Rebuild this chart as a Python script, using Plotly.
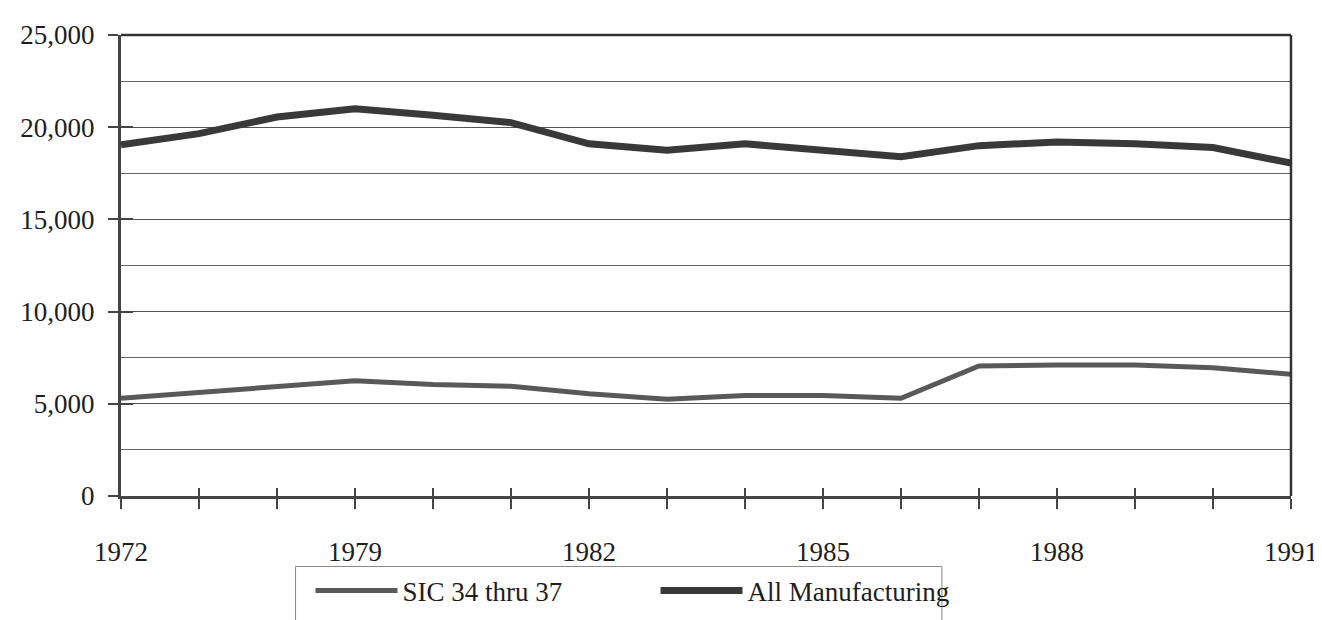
import plotly.graph_objects as go

years = ["1972", "1977", "1978", "1979", "1980", "1981", "1982", "1983",
         "1984", "1985", "1986", "1987", "1988", "1989", "1990", "1991"]
label_years = ["1972", "1979", "1982", "1985", "1988", "1991"]
sic_34_37 = [5300, 5600, 5950, 6250, 6050, 5950, 5550, 5250,
             5450, 5450, 5300, 7050, 7100, 7100, 6950, 6600]
all_mfg = [19050, 19650, 20550, 21000, 20650, 20250, 19100, 18750,
           19100, 18750, 18400, 19000, 19200, 19100, 18900, 18050]
y_ticks = [0, 5000, 10000, 15000, 20000, 25000]

FONT = "Liberation Serif"
FS = 27

# plot-area pixel geometry (for positioning legend/box in paper coords)
L, R, T, B, W, H = 110, 39, 21, 115, 1322, 620
PW, PH = W - L - R, H - T - B
def px(x):
    return (x - L) / PW
def py(y):
    return (H - B - y) / PH

fig = go.Figure()
fig.add_trace(go.Scatter(x=years, y=sic_34_37, mode="lines", name="SIC 34 thru 37",
                         line=dict(color="#595959", width=5)))
fig.add_trace(go.Scatter(x=years, y=all_mfg, mode="lines", name="All Manufacturing",
                         line=dict(color="#393939", width=7)))

ticktext = [y if y in label_years else "" for y in years]

fig.update_layout(
    width=W, height=H,
    margin=dict(l=L, r=R, t=T, b=B),
    paper_bgcolor="white", plot_bgcolor="white",
    font=dict(family=FONT, size=FS, color="#1e1e1e"),
    showlegend=True,
    legend=dict(orientation="h", x=px(300), xanchor="left", y=py(579), yanchor="top",
                borderwidth=0, font=dict(size=FS, family=FONT),
                itemwidth=82, entrywidth=248, bgcolor="rgba(0,0,0,0)"),
    xaxis=dict(type="category", range=[0, 15], tickmode="array", tickvals=years,
               ticktext=ticktext, ticks="outside", ticklen=10, tickwidth=2,
               tickcolor="#444", showline=True, linecolor="#444", linewidth=3,
               showgrid=False, zeroline=False, tickfont=dict(size=FS, family=FONT),
               ticklabelstandoff=20),
    xaxis2=dict(overlaying="x", anchor="y", side="bottom", range=[0, 15],
                tickmode="linear", tick0=0, dtick=1, ticks="inside", ticklen=8,
                tickwidth=2, tickcolor="#444", showticklabels=False,
                showgrid=False, zeroline=False, showline=False),
    yaxis=dict(range=[0, 25000], tickmode="array", tickvals=y_ticks,
               tickformat=",", ticks="outside", ticklen=10, tickwidth=2,
               tickcolor="#444", showline=True, linecolor="#444", linewidth=3,
               showgrid=True, gridcolor="#555", gridwidth=1, zeroline=False,
               tickfont=dict(size=FS, family=FONT), ticklabelstandoff=8,
               minor=dict(dtick=2500, tick0=0, showgrid=True, gridcolor="#666",
                          gridwidth=1, ticks="")),
    yaxis2=dict(overlaying="y", anchor="x", side="left", range=[0, 25000],
                tickmode="array", tickvals=y_ticks, ticks="inside", ticklen=12,
                tickwidth=2, tickcolor="#444", showticklabels=False,
                showgrid=False, zeroline=False, showline=False),
)

# invisible helper trace to activate the overlay axes
fig.add_trace(go.Scatter(x=[0, 15], y=[0, 0], xaxis="x2", yaxis="y2", mode="lines",
                         line=dict(width=0), showlegend=False, hoverinfo="skip"))

# right border and top border of plot area
fig.add_shape(type="line", xref="paper", yref="paper", x0=1, x1=1, y0=0, y1=1,
              line=dict(color="#333", width=2.5))
fig.add_shape(type="line", xref="paper", yref="paper", x0=0, x1=1, y0=1, y1=1,
              line=dict(color="#333", width=2.5))
# legend frame (runs off the bottom of the page, as in the reference)
fig.add_shape(type="rect", xref="paper", yref="paper", x0=px(285), x1=px(933),
              y0=py(579), y1=py(640), line=dict(color="#888", width=1),
              fillcolor="rgba(0,0,0,0)", layer="below")

fig.write_html("out.html")
